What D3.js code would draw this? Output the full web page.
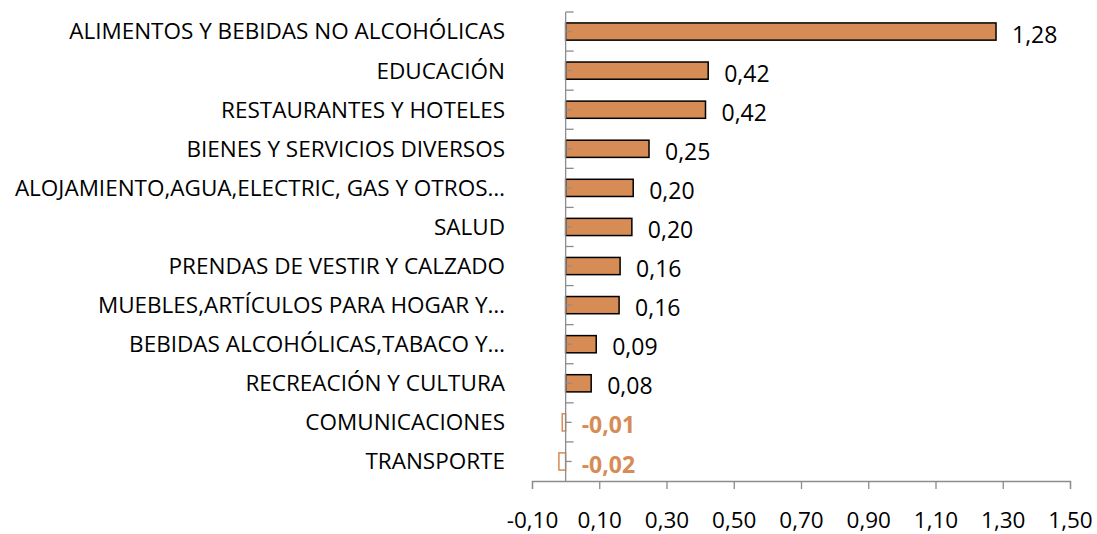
<!DOCTYPE html>
<html>
<head>
<meta charset="utf-8">
<script src="https://cdn.jsdelivr.net/npm/d3@7"></script>
<style>
  body { margin: 0; background: #fff; }
  text { font-family: "Open Sans", "Liberation Sans", sans-serif; }
</style>
</head>
<body>
<script>
const width = 1097;
const height = 534;

const categories = [
  "ALIMENTOS Y BEBIDAS NO ALCOHÓLICAS",
  "EDUCACIÓN",
  "RESTAURANTES Y HOTELES",
  "BIENES Y SERVICIOS DIVERSOS",
  "ALOJAMIENTO,AGUA,ELECTRIC, GAS Y OTROS…",
  "SALUD",
  "PRENDAS DE VESTIR Y CALZADO",
  "MUEBLES,ARTÍCULOS PARA HOGAR Y…",
  "BEBIDAS ALCOHÓLICAS,TABACO Y…",
  "RECREACIÓN Y CULTURA",
  "COMUNICACIONES",
  "TRANSPORTE"
];
const values = [1.28, 0.424, 0.416, 0.248, 0.201, 0.197, 0.162, 0.159, 0.091, 0.076, -0.01, -0.02];
const valueLabels = ["1,28", "0,42", "0,42", "0,25", "0,20", "0,20", "0,16", "0,16", "0,09", "0,08", "-0,01", "-0,02"];
const xTicks = [-0.10, 0.10, 0.30, 0.50, 0.70, 0.90, 1.10, 1.30, 1.50];

const barColor = "#D78B55";
const axisColor = "#8c8c8c";

const svg = d3.select("body").append("svg")
  .attr("width", width)
  .attr("height", height);

const x = d3.scaleLinear().domain([-0.10, 1.50]).range([532, 1070]);
const y = d3.scaleBand().domain(categories).range([12, 481]).paddingInner(0.56).paddingOuter(0.28);
const step = y.step();

// bars
svg.selectAll("rect.bar")
  .data(values)
  .enter()
  .append("rect")
    .attr("class", "bar")
    .attr("x", d => x(Math.min(0, d)))
    .attr("y", (d, i) => y(categories[i]))
    .attr("width", d => Math.abs(x(d) - x(0)))
    .attr("height", y.bandwidth())
    .attr("fill", d => d < 0 ? "#fff" : barColor)
    .attr("stroke", d => d < 0 ? barColor : "#000")
    .attr("stroke-width", 1.5);

// bottom axis
const xAxis = d3.axisBottom(x)
  .tickValues(xTicks)
  .tickSize(8)
  .tickFormat(d => d3.format(".2f")(d).replace(".", ",").replace("−", "-"));

const gx = svg.append("g")
  .attr("transform", "translate(0,481)")
  .call(xAxis);
gx.select(".domain").attr("stroke", axisColor).attr("stroke-width", 1.3);
gx.selectAll(".tick line").attr("stroke", axisColor).attr("stroke-width", 1.3);
gx.selectAll(".tick text")
  .attr("y", 31)
  .attr("font-size", 22.5)
  .attr("fill", "#000")
  .style("font-family", "'Open Sans', 'Liberation Sans', sans-serif");

// vertical category axis at zero
const axisX = x(0);
svg.append("line")
  .attr("x1", axisX).attr("x2", axisX)
  .attr("y1", 12).attr("y2", 481)
  .attr("stroke", axisColor).attr("stroke-width", 1.3);

const boundaries = d3.range(categories.length).map(i => 12 + i * step);
svg.selectAll("line.major")
  .data(boundaries)
  .enter()
  .append("line")
    .attr("x1", axisX).attr("x2", axisX + 8)
    .attr("y1", d => d).attr("y2", d => d)
    .attr("stroke", axisColor).attr("stroke-width", 1.3);

svg.selectAll("line.minor")
  .data(categories)
  .enter()
  .append("line")
    .attr("x1", axisX).attr("x2", axisX + 6)
    .attr("y1", d => y(d) + y.bandwidth() / 2)
    .attr("y2", d => y(d) + y.bandwidth() / 2)
    .attr("stroke", axisColor).attr("stroke-width", 1.3);

// category labels
svg.selectAll("text.cat")
  .data(categories)
  .enter()
  .append("text")
    .attr("class", "cat")
    .attr("x", 505)
    .attr("y", d => y(d) + y.bandwidth() / 2)
    .attr("dy", "0.35em")
    .attr("text-anchor", "end")
    .attr("font-size", 22.5)
    .attr("fill", "#000")
    .text(d => d);

// value labels
svg.selectAll("text.val")
  .data(values)
  .enter()
  .append("text")
    .attr("class", "val")
    .attr("x", d => x(Math.max(0, d)) + 16)
    .attr("y", (d, i) => y(categories[i]) + y.bandwidth() / 2 + 3)
    .attr("dy", "0.35em")
    .attr("font-size", 23)
    .attr("font-weight", d => d < 0 ? "bold" : "normal")
    .attr("fill", d => d < 0 ? barColor : "#000")
    .text((d, i) => valueLabels[i]);
</script>
</body>
</html>
